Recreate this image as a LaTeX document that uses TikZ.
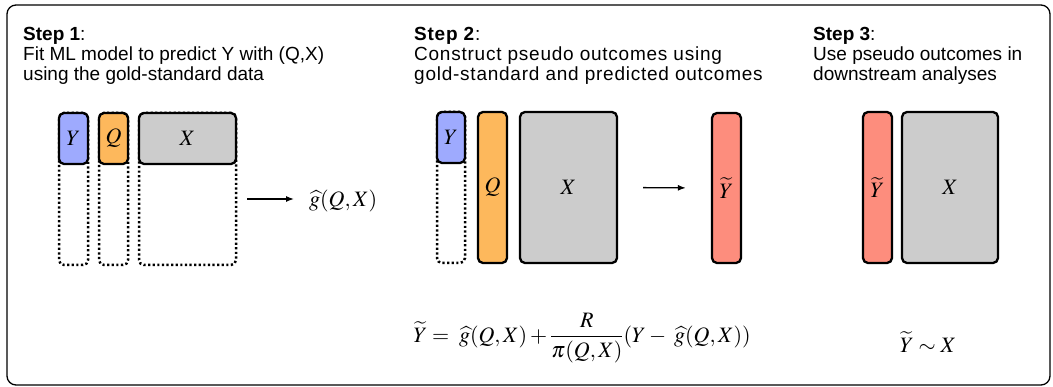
\documentclass[tikz,border=0pt]{standalone}
\usepackage{mathptmx}
\usepackage[no-math]{fontspec}
\setmainfont{Liberation Sans}
\newfontfamily\widesans[LetterSpace=4]{Liberation Sans}
\usetikzlibrary{arrows.meta}
\definecolor{ycol}{HTML}{9EAAFE}
\definecolor{qcol}{HTML}{FDB85C}
\definecolor{xcol}{HTML}{CCCCCC}
\definecolor{tcol}{HTML}{FD8D7D}
\tikzset{
  box/.style={draw, line width=2.3pt, rounded corners=5pt, inner sep=0pt, font=\fontsize{22}{24}\selectfont},
  dotbox/.style={draw, line width=2.5pt, dash pattern=on 2.2pt off 2.4pt, rounded corners=5pt, inner sep=0pt},
  head/.style={anchor=north west, align=left, inner sep=0pt, font=\fontsize{19}{20}\selectfont},
  mtext/.style={inner sep=0pt, font=\fontsize{22}{24}\selectfont},
  arr/.style={line width=1.3pt, -{Latex[length=8pt,width=6pt]}},
}
\begin{document}
\begin{tikzpicture}[x=1pt,y=-1pt]
\useasboundingbox (0,0) rectangle (1053,387);
\node[draw, line width=1.3pt, rounded corners=9pt, minimum width=1043pt, minimum height=380pt, inner sep=0pt] (frame) at (528.5,195) {};

% headings
\node[head] (h1) at (23,27) {\textbf{Step 1}:\\Fit ML model to predict Y with (Q,X)\\using the gold-standard data};
\node[head, font=\fontsize{19}{20}\widesans] (h2) at (414,27) {\textbf{Step 2}:\\Construct pseudo outcomes using\\gold-standard and predicted outcomes};
\node[head] (h3) at (813,27) {\textbf{Step 3}:\\Use pseudo outcomes in\\downstream analyses};

% step 1
\node[dotbox, minimum width=29pt, minimum height=152pt] (y1d) at (73.5,189) {};
\node[dotbox, minimum width=29pt, minimum height=152pt] (q1d) at (113.5,189) {};
\node[dotbox, minimum width=97pt, minimum height=152pt] (x1d) at (187.5,189) {};
\node[box, fill=ycol, minimum width=29pt, minimum height=51pt] (y1) at (73.5,138.5) {$Y$};
\node[box, fill=qcol, minimum width=29pt, minimum height=51pt] (q1) at (113.5,138.5) {$Q$};
\node[box, fill=xcol, minimum width=97pt, minimum height=51pt] (x1) at (187.5,138.5) {$X$};
\coordinate (a1) at (247,199);
\node[mtext, anchor=west] (g1) at (309,201) {$\widehat{g}(Q,X)$};
\draw[arr, shorten >=15pt] (a1) -- (g1.west |- a1);

% step 2
\node[dotbox, minimum width=28pt, minimum height=151pt] (y2d) at (451,187.5) {};
\node[box, fill=ycol, minimum width=28pt, minimum height=51pt] (y2) at (451,137.5) {$Y$};
\node[box, fill=qcol, minimum width=29pt, minimum height=151pt] (q2) at (492.5,187.5) {$Q$};
\node[box, fill=xcol, minimum width=97pt, minimum height=151pt] (x2) at (568.5,187.5) {$X$};
\node[box, fill=tcol, minimum width=29pt, minimum height=150pt] (t2) at (726.5,188) {$\widetilde{Y}$};
\draw[arr, shorten <=25pt, shorten >=25pt] (x2.east) -- (t2.west);

% step 3
\node[box, fill=tcol, minimum width=29pt, minimum height=151pt] (t3) at (877.5,187.5) {$\widetilde{Y}$};
\node[box, fill=xcol, minimum width=96pt, minimum height=151pt] (x3) at (950,187.5) {$X$};

% formulas
\node[mtext] (eq) at (582,338) {$\displaystyle\widetilde{Y} = \;\widehat{g}(Q,X) + \frac{R}{\pi(Q,X)}(Y - \;\widehat{g}(Q,X))$};
\node[mtext] (eq3) at (928,342) {$\widetilde{Y} \sim X$};
\end{tikzpicture}
\end{document}
